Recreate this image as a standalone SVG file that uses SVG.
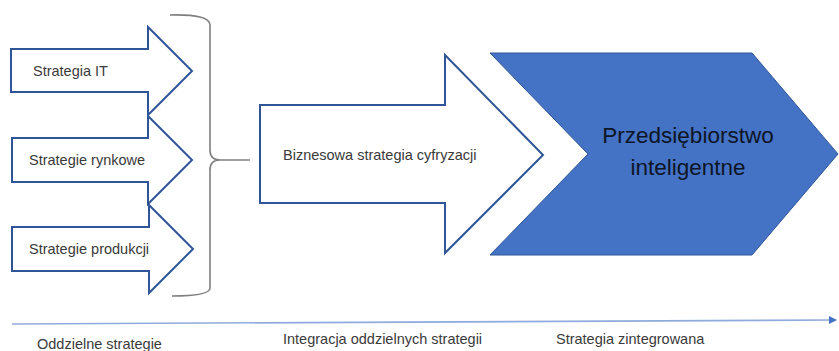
<svg xmlns="http://www.w3.org/2000/svg" width="839" height="351" viewBox="0 0 839 351">
<style>
.arr{fill:#fff;stroke:#2F5597;stroke-width:2;stroke-linejoin:miter}
.lbl{font-family:"Liberation Sans",Arial,sans-serif;font-size:14.5px;fill:#3a3a3a}
.big{font-family:"Liberation Sans",Arial,sans-serif;font-size:22.5px;fill:#0d1526;text-anchor:middle}
</style>
<defs>
<marker id="ah" markerWidth="8" markerHeight="8" refX="7" refY="4" orient="auto" markerUnits="userSpaceOnUse">
<path d="M0,0 L8,4 L0,8 Z" fill="#4472C4"/>
</marker>
</defs>
<rect width="839" height="351" fill="#fff"/>
<g id="n-it">
<path class="arr" d="M11,49 H148 V27 L192,71 L148,115 V92 H11 Z"/>
<text class="lbl" x="33" y="76">Strategia IT</text>
</g>
<g id="n-rynkowe">
<path class="arr" d="M12,138 H148 V116 L192,160 L148,204 V182 H12 Z"/>
<text class="lbl" x="29" y="165">Strategie rynkowe</text>
</g>
<g id="n-produkcji">
<path class="arr" d="M12,227 H149 V205 L193,249 L149,293 V271 H12 Z"/>
<text class="lbl" x="29" y="254">Strategie produkcji</text>
</g>
<g id="n-biznes">
<path class="arr" d="M260,105 H445 V55 L543,155 L445,253 V203 H260 Z"/>
<text class="lbl" x="283" y="160">Biznesowa strategia cyfryzacji</text>
</g>
<g id="n-przeds">
<path d="M490,53 H752 L838,154 L752,255 H490 L588,154 Z" fill="#4472C4" stroke="#2F5597" stroke-width="1"/>
<text class="big" x="688" y="143">Przedsiębiorstwo</text>
<text class="big" x="688" y="175">inteligentne</text>
</g>
<g id="connectors">
<path d="M170,15 Q210,14 210,25 V150 Q210,160 220,160 H250 M220,160 Q210,160 210,170 V288 Q210,296 172,296" fill="none" stroke="#7F7F7F" stroke-width="1.6"/>
<line x1="12" y1="324" x2="836" y2="320" stroke="#8FAADC" stroke-width="1.6" marker-end="url(#ah)"/>
</g>
<g id="labels">
<text class="lbl" x="37" y="349">Oddzielne strategie</text>
<text class="lbl" x="283" y="344">Integracja oddzielnych strategii</text>
<text class="lbl" x="556" y="344">Strategia zintegrowana</text>
</g>
</svg>
